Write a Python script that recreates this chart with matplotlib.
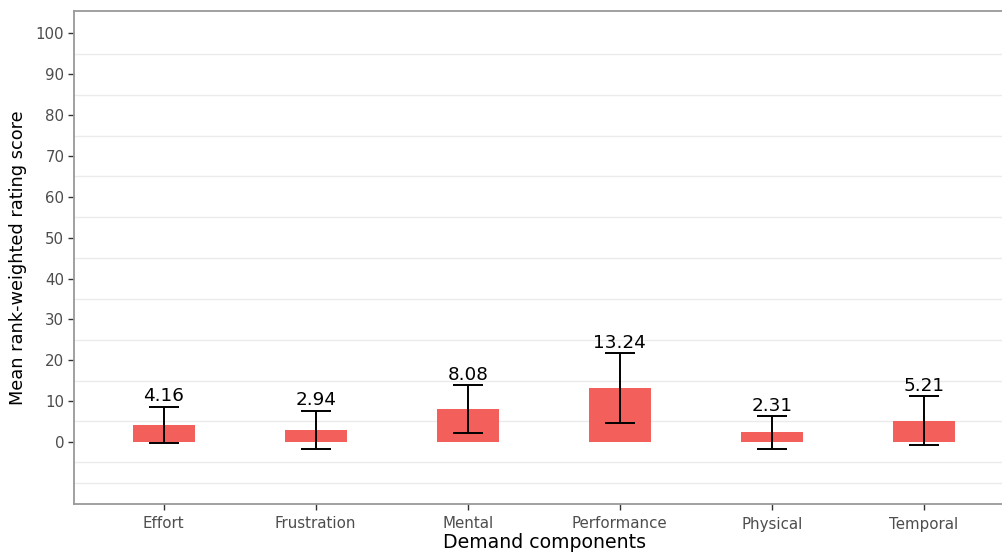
import matplotlib.pyplot as plt

# Mean rank-weighted rating per demand component, with error (sd)
components = ['Effort', 'Frustration', 'Mental', 'Performance', 'Physical', 'Temporal']
means = [4.16, 2.94, 8.08, 13.24, 2.31, 5.21]
errors = [4.5, 4.74, 5.9, 8.5, 3.95, 5.95]
y_ticks = [0, 10, 20, 30, 40, 50, 60, 70, 80, 90, 100]
grid_lines = [-10, -5, 5, 15, 25, 35, 45, 55, 65, 75, 85, 95]

plt.rcParams['font.family'] = ['DejaVu Sans']

fig = plt.figure(figsize=(10.03, 5.52), dpi=100)
fig.set_facecolor('white')
# axes run slightly past the right edge, like the cropped original
ax = fig.add_axes([74 / 1003, 48 / 552, 941 / 1003, 493 / 552])

x = list(range(1, len(components) + 1))

for g in grid_lines:
    ax.axhline(g, color='#EBEBEB', linewidth=1.0, zorder=0)

ax.bar(x, means, width=0.41, color='#F3605B', zorder=2)
ax.errorbar(x, means, yerr=errors, fmt='none', ecolor='black',
            elinewidth=1.4, capsize=10.8, capthick=1.4, zorder=3)

for xi, m, e in zip(x, means, errors):
    ax.text(xi, m + e + 0.3, '{:.2f}'.format(m), ha='center', va='bottom',
            fontsize=13.2, color='black', zorder=4)

ax.set_xlim(0.41, 6.6)
ax.set_ylim(-15.2, 105.5)
ax.set_xticks(x)
ax.set_xticklabels(components)
ax.set_yticks(y_ticks)

ax.tick_params(axis='both', colors='#333333', labelcolor='#4D4D4D',
               labelsize=10.8, length=4, width=1.0)
ax.tick_params(axis='x', pad=5)
ax.tick_params(axis='y', pad=3)

for s in ax.spines.values():
    s.set_color('#999999')
    s.set_linewidth(1.3)
# right border falls outside the cropped picture
ax.spines['right'].set_visible(False)

ax.set_xlabel('Demand components', fontsize=13.6, color='black', labelpad=1)
ax.set_ylabel('Mean rank-weighted rating score', fontsize=12.8, color='black', labelpad=6)

plt.savefig('out.png', dpi=100, facecolor=fig.get_facecolor())
